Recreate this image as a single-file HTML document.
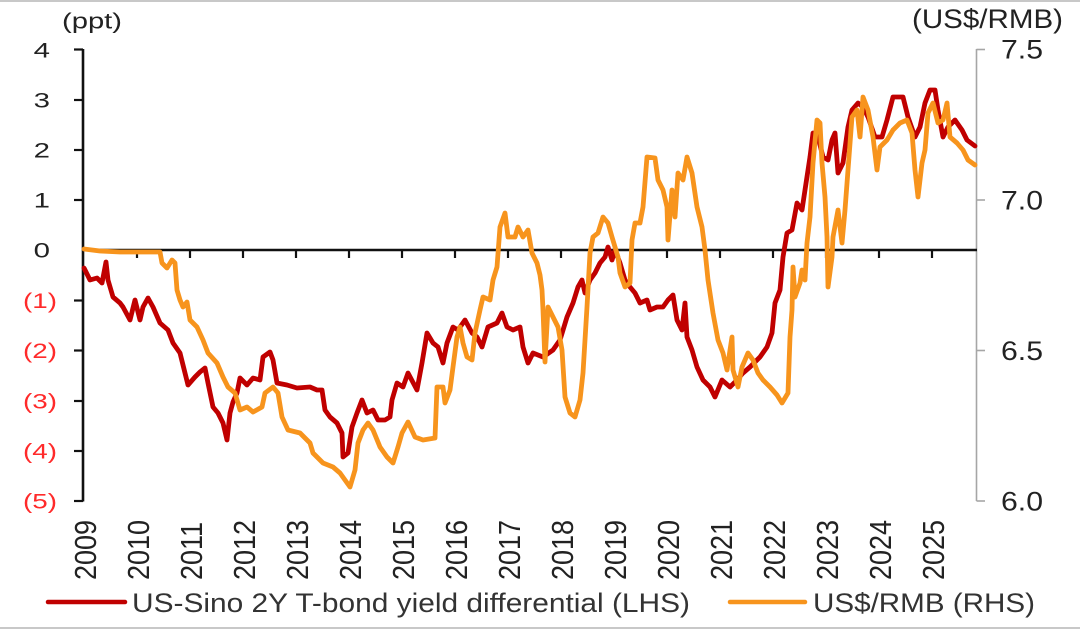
<!DOCTYPE html>
<html>
<head>
<meta charset="utf-8">
<style>
  html, body { margin: 0; padding: 0; background: #ffffff; }
  svg { display: block; }
  text { font-family: "Liberation Sans", Arial, sans-serif; }
</style>
</head>
<body>
<svg width="1080" height="630" viewBox="0 0 1080 630" xmlns="http://www.w3.org/2000/svg">
  <rect x="0" y="0" width="1080" height="630" fill="#ffffff"/>
  <line x1="0" y1="1" x2="1080" y2="1" stroke="#c8c8c8" stroke-width="2"/>
  <line x1="0" y1="628" x2="1080" y2="628" stroke="#c8c8c8" stroke-width="2"/>

  <text x="62" y="28.5" font-size="22" fill="#222" textLength="60" lengthAdjust="spacingAndGlyphs">(ppt)</text>
  <text x="912" y="28" font-size="27" fill="#222" textLength="151" lengthAdjust="spacingAndGlyphs">(US$/RMB)</text>

  <line x1="83" y1="49" x2="83" y2="501.5" stroke="#111" stroke-width="2.6"/>
  <g stroke="#111" stroke-width="2.2">
    <line x1="74" y1="49.5" x2="83" y2="49.5"/>
    <line x1="74" y1="100" x2="83" y2="100"/>
    <line x1="74" y1="150" x2="83" y2="150"/>
    <line x1="74" y1="200" x2="83" y2="200"/>
    <line x1="74" y1="300.5" x2="83" y2="300.5"/>
    <line x1="74" y1="350.5" x2="83" y2="350.5"/>
    <line x1="74" y1="401" x2="83" y2="401"/>
    <line x1="74" y1="451" x2="83" y2="451"/>
    <line x1="74" y1="501" x2="83" y2="501"/>
  </g>
  <g font-size="21" fill="#222" text-anchor="end">
    <text transform="translate(50,57.5) scale(1.4,1)">4</text>
    <text transform="translate(50,107.5) scale(1.4,1)">3</text>
    <text transform="translate(50,157.5) scale(1.4,1)">2</text>
    <text transform="translate(50,207.5) scale(1.4,1)">1</text>
    <text transform="translate(50,257.5) scale(1.4,1)">0</text>
  </g>
  <g font-size="21" fill="#ff2a2a">
    <text x="23" y="308" textLength="34" lengthAdjust="spacingAndGlyphs">(1)</text>
    <text x="23" y="358" textLength="34" lengthAdjust="spacingAndGlyphs">(2)</text>
    <text x="23" y="408.5" textLength="34" lengthAdjust="spacingAndGlyphs">(3)</text>
    <text x="23" y="458.5" textLength="34" lengthAdjust="spacingAndGlyphs">(4)</text>
    <text x="23" y="508.5" textLength="34" lengthAdjust="spacingAndGlyphs">(5)</text>
  </g>

  <line x1="976.5" y1="49" x2="976.5" y2="501" stroke="#a6a6a6" stroke-width="1.6"/>
  <g stroke="#a6a6a6" stroke-width="1.6">
    <line x1="976.5" y1="49.5" x2="985" y2="49.5"/>
    <line x1="976.5" y1="200" x2="985" y2="200"/>
    <line x1="976.5" y1="350.5" x2="985" y2="350.5"/>
    <line x1="976.5" y1="501" x2="985" y2="501"/>
  </g>
  <g font-size="27" fill="#222">
    <text x="1001" y="58.5" textLength="42" lengthAdjust="spacingAndGlyphs">7.5</text>
    <text x="1001" y="209.5" textLength="42" lengthAdjust="spacingAndGlyphs">7.0</text>
    <text x="1001" y="360" textLength="42" lengthAdjust="spacingAndGlyphs">6.5</text>
    <text x="1001" y="510.5" textLength="42" lengthAdjust="spacingAndGlyphs">6.0</text>
  </g>

  <line x1="83" y1="250" x2="977" y2="250" stroke="#111" stroke-width="2.6"/>
  <g stroke="#111" stroke-width="2.2">
    <line x1="137" y1="250" x2="137" y2="258"/>
    <line x1="190" y1="250" x2="190" y2="258"/>
    <line x1="243" y1="250" x2="243" y2="258"/>
    <line x1="296" y1="250" x2="296" y2="258"/>
    <line x1="349" y1="250" x2="349" y2="258"/>
    <line x1="402" y1="250" x2="402" y2="258"/>
    <line x1="455" y1="250" x2="455" y2="258"/>
    <line x1="508" y1="250" x2="508" y2="258"/>
    <line x1="561" y1="250" x2="561" y2="258"/>
    <line x1="614" y1="250" x2="614" y2="258"/>
    <line x1="667" y1="250" x2="667" y2="258"/>
    <line x1="720" y1="250" x2="720" y2="258"/>
    <line x1="773" y1="250" x2="773" y2="258"/>
    <line x1="826" y1="250" x2="826" y2="258"/>
    <line x1="879" y1="250" x2="879" y2="258"/>
    <line x1="932" y1="250" x2="932" y2="258"/>
  </g>

  <g font-size="27" fill="#222">
    <text transform="translate(96,580) scale(1.14,1) rotate(-90)">2009</text>
    <text transform="translate(149,580) scale(1.14,1) rotate(-90)">2010</text>
    <text transform="translate(202,580) scale(1.14,1) rotate(-90)">2011</text>
    <text transform="translate(255,580) scale(1.14,1) rotate(-90)">2012</text>
    <text transform="translate(308,580) scale(1.14,1) rotate(-90)">2013</text>
    <text transform="translate(361,580) scale(1.14,1) rotate(-90)">2014</text>
    <text transform="translate(414,580) scale(1.14,1) rotate(-90)">2015</text>
    <text transform="translate(467,580) scale(1.14,1) rotate(-90)">2016</text>
    <text transform="translate(520,580) scale(1.14,1) rotate(-90)">2017</text>
    <text transform="translate(573,580) scale(1.14,1) rotate(-90)">2018</text>
    <text transform="translate(626,580) scale(1.14,1) rotate(-90)">2019</text>
    <text transform="translate(679,580) scale(1.14,1) rotate(-90)">2020</text>
    <text transform="translate(732,580) scale(1.14,1) rotate(-90)">2021</text>
    <text transform="translate(785,580) scale(1.14,1) rotate(-90)">2022</text>
    <text transform="translate(838,580) scale(1.14,1) rotate(-90)">2023</text>
    <text transform="translate(891,580) scale(1.14,1) rotate(-90)">2024</text>
    <text transform="translate(944,580) scale(1.14,1) rotate(-90)">2025</text>
  </g>

  <polyline fill="none" stroke="#c00000" stroke-width="4.8" stroke-linejoin="round" stroke-linecap="round"
    points="84,268 90,280 97,278 102,283 106,262 108,280 113,297 120,303 123,307 130,320 135,300 140,320 143,307 148,298 153,307 160,323 168,330 173,343 180,353 185,373 188,385 195,377 200,372 205,368 208,383 213,407 218,413 223,423 227,440 230,413 233,402 237,393 240,378 247,385 253,378 260,380 263,357 270,352 273,360 277,383 287,385 297,388 310,387 317,390 322,390 325,410 330,417 337,423 342,433 343,457 348,453 352,427 357,413 362,400 367,413 373,410 378,420 385,420 390,417 392,400 397,383 403,387 408,373 417,390 422,363 427,333 433,343 438,347 443,363 447,343 453,327 458,330 465,320 472,333 477,337 482,347 488,327 497,323 502,313 507,327 513,330 520,327 523,347 528,363 533,353 543,357 553,350 560,340 567,317 573,303 578,287 582,280 585,293 590,280 595,273 600,263 605,257 608,247 612,260 615,250 620,263 625,280 630,287 635,293 640,303 647,300 650,310 657,307 663,307 668,300 673,295 677,320 682,330 685,303 687,337 692,350 697,367 703,380 710,387 715,397 722,380 730,387 737,380 743,373 750,367 760,357 767,347 772,333 775,303 780,290 783,257 787,233 792,230 797,203 802,210 805,190 810,157 813,133 818,137 823,157 828,160 832,140 835,133 838,173 843,163 848,127 852,110 858,103 863,107 868,117 875,137 882,137 887,120 893,97 903,97 908,117 915,137 920,127 925,103 930,90 935,90 938,110 943,137 948,127 955,120 962,130 967,140 975,146"/>

  <polyline fill="none" stroke="#f7941d" stroke-width="4.8" stroke-linejoin="round" stroke-linecap="round"
    points="84,249 100,251 120,252 140,252 160,252 162,263 167,268 172,260 175,263 177,290 180,300 183,307 187,302 190,320 197,327 203,340 208,353 217,363 223,377 228,387 235,393 240,410 247,407 253,412 262,407 265,393 273,387 278,393 282,417 288,430 300,433 310,443 313,453 323,463 333,467 340,473 350,487 355,470 358,443 363,430 368,423 373,430 380,447 387,457 393,463 398,447 402,433 408,422 415,437 423,440 435,438 437,387 443,387 445,403 450,390 453,367 457,337 460,327 463,343 467,357 472,360 475,333 480,310 483,297 490,300 493,280 497,267 500,227 505,213 508,237 515,237 518,227 523,237 528,230 532,253 537,263 540,275 542,290 543,310 545,362 548,307 553,317 558,327 562,350 565,397 570,413 575,417 580,400 583,373 587,307 590,253 593,237 598,233 603,217 608,223 612,237 615,247 618,257 620,273 625,287 630,283 632,240 635,223 640,223 643,207 647,157 655,158 658,180 663,190 667,207 668,240 672,190 675,217 678,173 683,180 687,157 692,173 697,207 702,227 705,250 708,280 713,313 718,340 723,353 727,370 732,337 733,370 738,387 742,367 748,353 753,360 758,373 763,380 770,387 777,395 782,403 788,393 790,337 792,310 793,267 795,297 800,283 802,270 805,280 807,243 810,217 813,163 817,120 820,123 822,163 825,197 827,237 828,287 832,257 833,237 838,210 842,243 845,210 848,170 852,117 857,110 860,137 863,97 868,110 873,137 877,170 880,147 887,140 893,130 900,123 907,120 912,133 915,170 918,197 922,163 925,150 928,113 933,103 938,123 943,120 947,103 950,137 957,143 963,150 968,160 975,165"/>

  <line x1="48" y1="602" x2="125" y2="602" stroke="#c00000" stroke-width="4.5" stroke-linecap="round"/>
  <text x="132" y="612" font-size="26.5" fill="#333" textLength="558" lengthAdjust="spacingAndGlyphs">US-Sino 2Y T-bond yield differential (LHS)</text>
  <line x1="730" y1="602" x2="805" y2="602" stroke="#f7941d" stroke-width="4.5" stroke-linecap="round"/>
  <text x="813" y="612" font-size="26.5" fill="#333" textLength="222" lengthAdjust="spacingAndGlyphs">US$/RMB (RHS)</text>
</svg>
</body>
</html>
